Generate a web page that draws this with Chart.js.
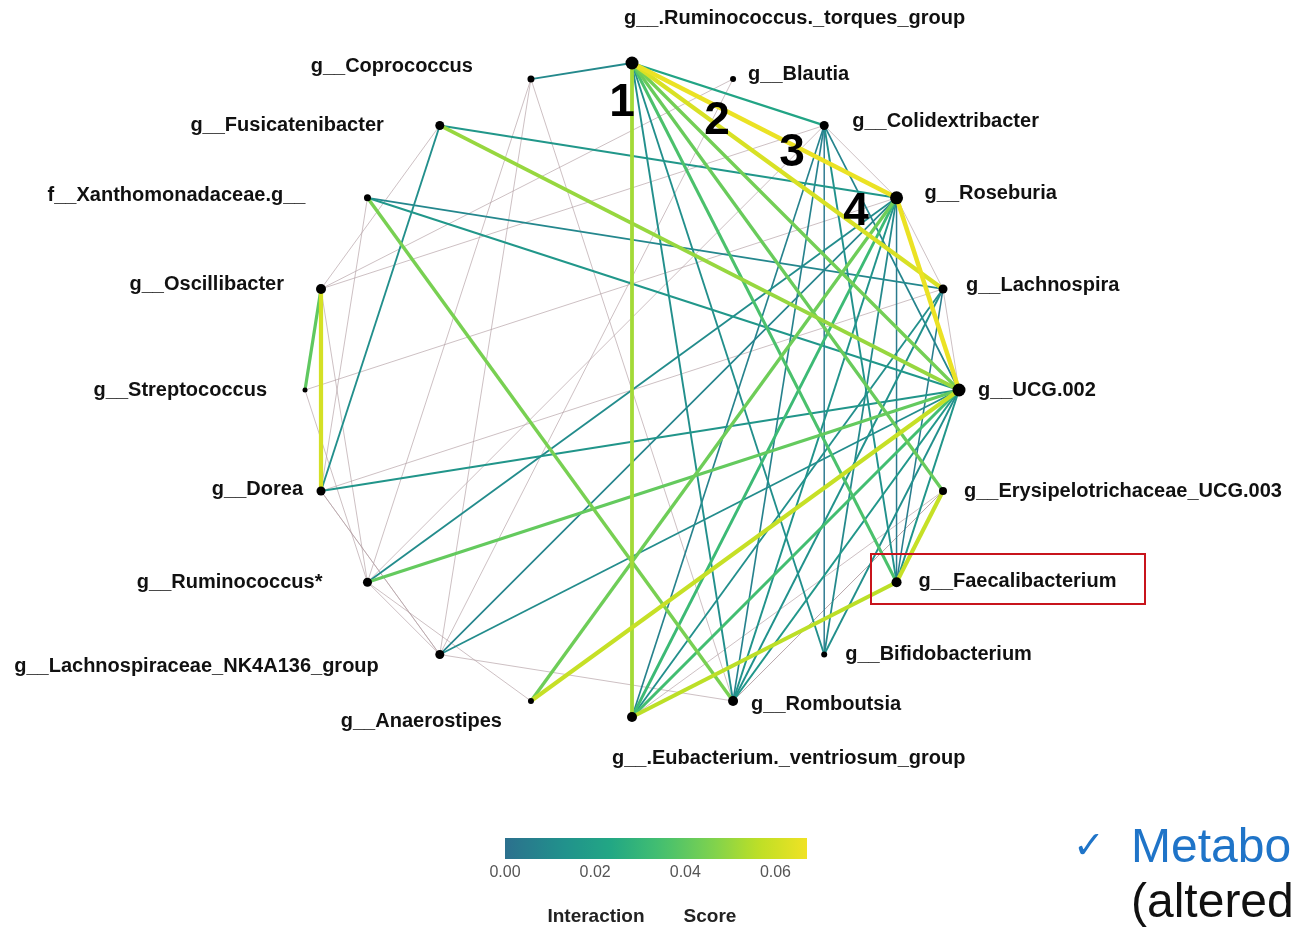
<!DOCTYPE html>
<html><head><meta charset="utf-8">
<script src="https://cdn.jsdelivr.net/npm/chart.js@4.4.0/dist/chart.umd.min.js"></script>
<style>html,body{margin:0;padding:0;background:#fff;}#wrap{width:1291px;height:930px;}</style>
</head><body><div id="wrap"><canvas id="c" width="1291" height="930"></canvas></div>
<script>
// ---- data ----
const nodeNames = ["g__.Ruminococcus._torques_group","g__Blautia","g__Colidextribacter","g__Roseburia","g__Lachnospira","g__UCG.002","g__Erysipelotrichaceae_UCG.003","g__Faecalibacterium","g__Bifidobacterium","g__Romboutsia","g__.Eubacterium._ventriosum_group","g__Anaerostipes","g__Lachnospiraceae_NK4A136_group","g__Ruminococcus*","g__Dorea","g__Streptococcus","g__Oscillibacter","f__Xanthomonadaceae.g__","g__Fusicatenibacter","g__Coprococcus"];
const nodeDegree = [6.5,3,4.5,6.5,4.5,6.5,4,5,3,5,5,3,4.5,4.5,4.5,2.5,5,3.5,4.5,3.5];
const edgeFrom  = [0,0,3,6,7,11,16,0,18,17,13,11,16,0,0,0,10,3,0, 0,0,0,18,18,17,17,14,13,12,3,3,4,4,5,5,5,2,2,3,5,4,3,2,10, 16,16,16,16,19,19,19,15,15,14,14,12,13,2,3,4,2,9,10,13,12,1,17,6];
const edgeTo    = [3,4,5,7,10,5,14,10,5,9,5,3,15,6,7,5,5,10,2, 19,8,9,3,14,5,4,5,3,5,9,12,9,10,9,8,7,7,9,8,2,7,7,8,2, 18,1,2,13,12,9,13,3,13,4,12,9,12,13,4,5,3,6,6,11,14,12,14,9];
const edgeScore = [0.066,0.062,0.066,0.058,0.056,0.058,0.061,0.052,0.050,0.045,0.041,0.043,0.040,0.042,0.036,0.044,0.034,0.032,0.022,
  0.010,0.012,0.012,0.016,0.012,0.016,0.009,0.015,0.011,0.011,0.014,0.008,0.013,0.012,0.016,0.012,0.015,0.013,0.007,0.010,0.008,0.005,0.004,0.003,0.007,
  -0.005,-0.005,-0.005,-0.005,-0.005,-0.005,-0.005,-0.005,-0.005,-0.005,-0.005,-0.005,-0.005,-0.005,-0.005,-0.005,-0.005,-0.005,-0.005,-0.005,-0.005,-0.005,-0.005,-0.005];
const colorbarTicks = [0.00, 0.02, 0.04, 0.06];
const scoreMax = 0.067;
const markerNumbers = ["1","2","3","4"];

// ---- layout helpers ----
const nodePoints = nodeNames.map((n,i)=>{const a=(90-18*i)*Math.PI/180;return {x:Math.cos(a),y:Math.sin(a)};});
const viridis = [[0.38,[44,112,142]],[0.5,[33,145,140]],[0.6,[34,168,132]],[0.7,[68,191,112]],[0.8,[122,209,81]],[0.9,[189,223,38]],[1.0,[240,226,36]]];
function scoreColor(s){
  if(s<0) return 'rgba(176,156,160,0.8)';
  const t=0.38+0.62*Math.min(s/scoreMax,1);
  for(let k=1;k<viridis.length;k++){
    if(t<=viridis[k][0]+1e-9){const [t0,c0]=viridis[k-1],[t1,c1]=viridis[k];const f=(t-t0)/(t1-t0);
      return 'rgb('+c0.map((v,j)=>Math.round(v+(c1[j]-v)*f)).join(',')+')';}
  }
  return 'rgb(240,226,36)';
}
function scoreWidth(s){return s<0?0.8:1.3+s*48;}

const edgeIdx = edgeScore.map((s,i)=>i).sort((a,b)=>edgeScore[b]-edgeScore[a]);
const edgeSets = edgeIdx.map(i=>({
  type:'line', data:[nodePoints[edgeFrom[i]],nodePoints[edgeTo[i]]],
  borderColor:scoreColor(edgeScore[i]), borderWidth:scoreWidth(edgeScore[i]),
  pointRadius:0, fill:false, tension:0
}));

// label placement (pixel offsets from node, text alignment)
const labelPlace = [[-8,-45,'left'],[15,-5,'left'],[28,-4,'left'],[28,-4,'left'],[23,-3,'left'],[19,0,'left'],[21,0,'left'],[22,-1,'left'],[21,0,'left'],[18,3,'left'],[-20,41,'left'],[-29,20,'right'],[-61,12,'right'],[-45,0,'right'],[-18,-2,'right'],[-38,0,'right'],[-37,-4,'right'],[-62,-2,'right'],[-56,0,'right'],[-58,-13,'right']];
const markerPos = [[622,103],[717,121],[792,153],[856,212]];

const R=327, CX=632, CY=390, W=1291, H=930;
const overlay = {
  id:'overlay',
  afterDatasetsDraw(chart){
    const ctx=chart.ctx, xs=chart.scales.x, ys=chart.scales.y;
    ctx.save();
    ctx.fillStyle='#111'; ctx.textBaseline='middle';
    ctx.font='bold 20px "Liberation Sans", Arial, sans-serif';
    nodePoints.forEach((p,i)=>{
      const px=xs.getPixelForValue(p.x), py=ys.getPixelForValue(p.y);
      const [dx,dy,al]=labelPlace[i];
      ctx.textAlign=al; ctx.fillText(nodeNames[i],px+dx,py+dy);
    });
    ctx.font='bold 46px "Liberation Sans", Arial, sans-serif'; ctx.textAlign='center'; ctx.fillStyle='#000';
    markerNumbers.forEach((m,i)=>ctx.fillText(m,markerPos[i][0],markerPos[i][1]));
    // red highlight box
    ctx.strokeStyle='#c8141c'; ctx.lineWidth=2; ctx.strokeRect(871,554,274,50);
    // colorbar
    const x0=505,x1=807,y0=838,h=21;
    const g=ctx.createLinearGradient(x0,0,x1,0);
    for(let k=0;k<=20;k++){g.addColorStop(k/20,scoreColor(scoreMax*k/20));}
    ctx.fillStyle=g; ctx.fillRect(x0,y0,x1-x0,h);
    ctx.fillStyle='#555'; ctx.font='16px "Liberation Sans", Arial, sans-serif'; ctx.textAlign='center';
    colorbarTicks.forEach(v=>{ctx.fillText(v.toFixed(2),x0+(v/scoreMax)*(x1-x0),873);});
    ctx.fillStyle='#222'; ctx.font='bold 19px "Liberation Sans", Arial, sans-serif';
    ctx.fillText('Interaction',596,917); ctx.fillText('Score',710,917);
    // slide text
    ctx.textAlign='left'; ctx.fillStyle='#1f74c8';
    ctx.font='38px "DejaVu Sans", sans-serif'; ctx.fillText('\u2713',1073,848);
    ctx.font='48px "Liberation Sans", Arial, sans-serif'; ctx.fillText('Metabo',1131,849);
    ctx.fillStyle='#111'; ctx.fillText('(altered',1131,904);
    ctx.restore();
  }
};

new Chart(document.getElementById('c'),{
  type:'scatter',
  data:{datasets:[{type:'scatter',data:nodePoints,pointRadius:nodeDegree,pointBackgroundColor:'#000',pointBorderWidth:0,pointHoverRadius:nodeDegree}].concat(edgeSets)},
  options:{responsive:false,animation:false,events:[],
    layout:{padding:0,autoPadding:false},
    plugins:{legend:{display:false},tooltip:{enabled:false}},
    scales:{x:{type:'linear',display:false,min:-CX/R,max:(W-CX)/R},
            y:{type:'linear',display:false,min:-(H-CY)/R,max:CY/R}}},
  plugins:[overlay]
});
</script></body></html>
